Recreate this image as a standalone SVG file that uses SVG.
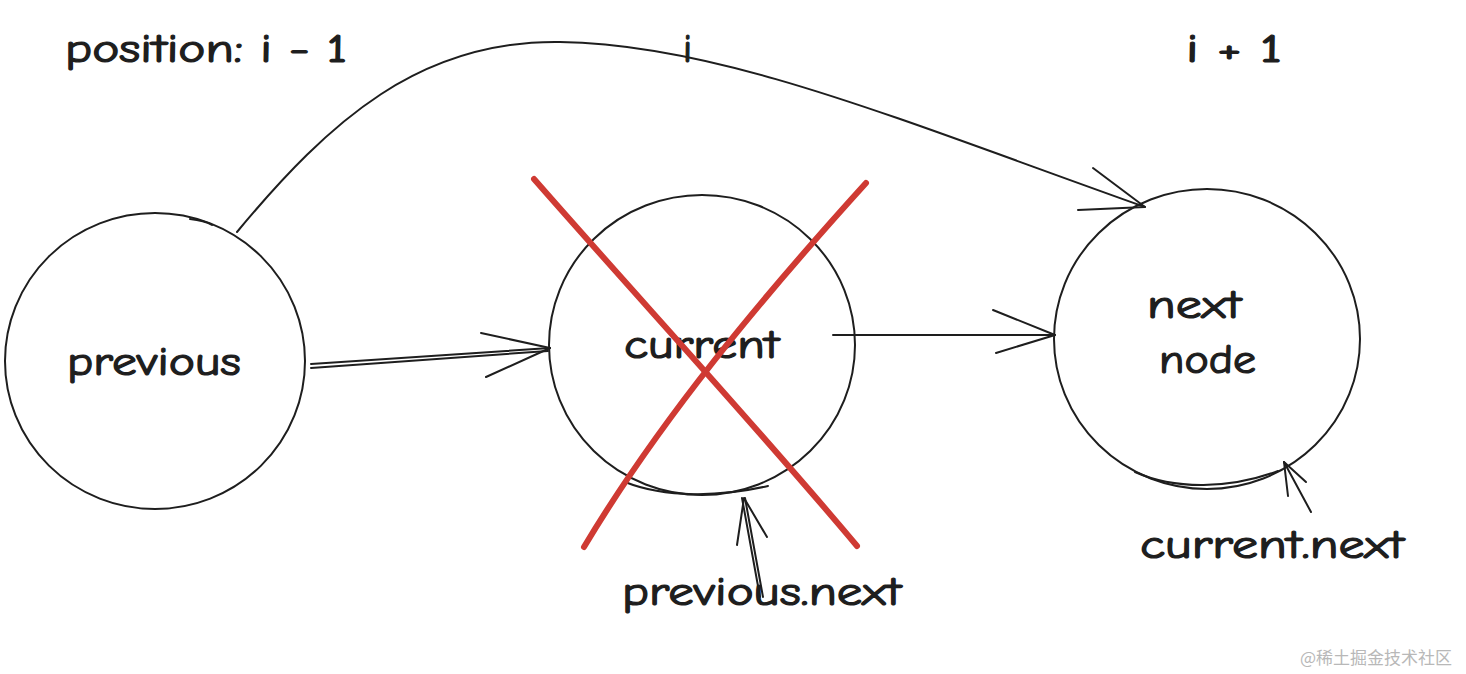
<svg xmlns="http://www.w3.org/2000/svg" width="1466" height="674" viewBox="0 0 1466 674">
<style>
.n{fill:none;stroke:#1e1e1e;stroke-width:2;stroke-linecap:round;stroke-linejoin:round}
.t{font-family:"Comic Neue","Noto Sans","Liberation Sans",sans-serif;font-size:40px;fill:#1e1e1e;stroke:#1e1e1e;stroke-width:1.2}
.x{fill:none;stroke:#cf3a33;stroke-width:6;stroke-linecap:round}
.w{font-family:"Noto Sans CJK SC","Noto Sans",sans-serif;font-size:17px;fill:#b8b8b8}
</style>
<rect width="1466" height="674" fill="#ffffff"/>
<g id="labels">
<text class="t" x="65" y="62" textLength="282" lengthAdjust="spacingAndGlyphs">position: i - 1</text>
<text class="t" x="683" y="62">i</text>
<text class="t" x="1186" y="62" textLength="96" lengthAdjust="spacingAndGlyphs">i + 1</text>
</g>
<g id="node-previous">
<ellipse class="n" cx="155" cy="361" rx="150" ry="148"/>
<path class="n" d="M190 219 C200 220 207 222 212 225"/>
<text class="t" x="67" y="375" textLength="174" lengthAdjust="spacingAndGlyphs">previous</text>
</g>
<g id="node-current">
<ellipse class="n" cx="702" cy="345" rx="153" ry="150"/>
<path class="n" d="M625 482 C665 498 720 497 768 486"/>
<text class="t" x="624" y="358" textLength="155" lengthAdjust="spacingAndGlyphs">current</text>
</g>
<g id="node-next">
<ellipse class="n" cx="1207" cy="339" rx="153" ry="150"/>
<path class="n" d="M1135 472 C1175 490 1230 489 1278 471"/>
<text class="t" x="1147" y="318" textLength="94" lengthAdjust="spacingAndGlyphs">next</text>
<text class="t" x="1159" y="373" textLength="97" lengthAdjust="spacingAndGlyphs">node</text>
</g>
<g id="connectors">
<path class="n" d="M311 364 L550 348 M311 368 L548 351"/>
<path class="n" d="M481 333 L550 348 L486 377"/>
<path class="n" d="M833 335 L1055 335"/>
<path class="n" d="M993 310 L1055 335 L996 353"/>
<path class="n" d="M237 232 C330 120 420 40 560 42 C720 44 900 120 1145 207"/>
<path class="n" d="M1093 168 L1145 207 L1078 210"/>
<path class="n" d="M763 597 L745 498 M760 597 L742 498"/>
<path class="n" d="M737 545 L744 498 L767 537"/>
<path class="n" d="M1311 512 L1284 462"/>
<path class="n" d="M1288 496 L1284 462 L1306 482"/>
</g>
<g id="cross">
<path class="x" d="M534 179 C640 300 760 430 857 546"/>
<path class="x" d="M866 183 C760 300 660 420 584 547"/>
</g>
<g id="annotations">
<text class="t" x="622" y="605" textLength="279" lengthAdjust="spacingAndGlyphs">previous.next</text>
<text class="t" x="1140" y="558" textLength="264" lengthAdjust="spacingAndGlyphs">current.next</text>
</g>
<text class="w" x="1300" y="664">@稀土掘金技术社区</text>
</svg>
